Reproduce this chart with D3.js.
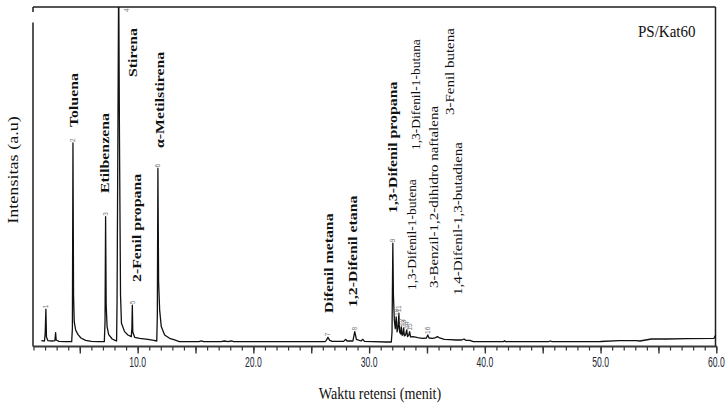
<!DOCTYPE html>
<html><head><meta charset="utf-8">
<script src="https://cdn.jsdelivr.net/npm/d3@7"></script>
<style>body{margin:0;background:#fff} svg{display:block}</style>
</head><body>
<svg id="chart" width="725" height="404"></svg>
<script>
// ---------- data ----------
const retentionTime = [1.68,1.95,2.01,2.07,2.12,2.25,2.6,2.85,2.91,2.96,3.2,3.8,4.3,4.36,4.41,4.46,4.52,4.65,4.85,5.1,5.5,6.0,6.6,7.12,7.18,7.23,7.28,7.36,7.5,7.8,8.1,8.18,8.22,8.29,8.36,8.43,8.52,8.6,8.87,9.16,9.45,9.5,9.54,9.58,9.74,10.17,10.89,11.4,11.65,11.7,11.75,11.81,11.9,12.04,12.33,12.76,13.19,13.6,15.3,15.5,15.7,17.2,17.5,17.8,18.1,18.3,21,24,26.2,26.3,26.44,26.6,26.8,27.8,27.96,28.1,28.6,28.76,28.9,29.3,29.46,29.6,30.3,31.5,31.92,31.98,32.05,32.1,32.18,32.26,32.34,32.42,32.5,32.57,32.64,32.72,32.78,32.85,32.92,32.98,33.05,33.15,33.25,33.32,33.42,33.5,33.58,33.8,34.2,34.6,34.95,35.07,35.18,35.5,35.75,35.9,36.1,36.5,37.0,37.5,38.0,38.2,38.35,38.7,39.0,40.0,41.6,41.7,41.8,45.5,45.65,45.8,48.2,50.0,51.6,53.1,53.4,54.4,55.7,57.5,59.8,59.95];
const signal = [0.4,0.3,2.5,9.8,1.5,0.4,0.3,0.4,2.8,0.6,0.2,0.1,0.1,4,59.4,14,6,3.5,2.2,1.2,0.5,0.2,0.1,0.1,6,37.4,11,4.5,2.2,0.9,0.4,0.3,12,60,110,60,14,5.6,3.1,2.1,1.6,4,11.0,3,1.4,1.1,0.8,0.5,0.3,8,51.8,18,9.6,4.6,2.1,1.1,0.6,0.1,0.1,0.3,0.1,0.1,0.3,0.1,0.3,0.1,0.1,0.1,0.1,0.5,1.4,0.5,0.2,0.2,0.8,0.3,0.3,3.1,0.8,0.3,0.8,0.2,0.1,0.0,0.0,3,29.5,14,6.5,4,7.5,3,4.2,8.6,3,2.4,4.5,2,2.3,4.2,1.8,2.1,3.6,1.6,2.0,3.1,1.5,1.6,1.3,1.1,1.2,2.1,1.2,1.1,1.3,1.6,1.2,0.8,0.7,0.6,0.6,0.9,0.5,0.5,0.1,0.1,0.1,0.4,0.1,0.1,0.3,0.1,0.1,0.15,0.4,0.4,0.3,0.9,0.9,1.0,1.1,2.1];

const peakNumber = [1,2,3,4,5,6,7,8,9,10,11,12,13,14,15,16];
const peakTime   = [2.07,4.41,7.23,8.36,9.54,11.75,26.44,28.76,32.05,32.34,32.57,32.78,32.98,33.25,33.5,35.07];
const peakApex   = [9.8,59.4,37.4,110,11.0,51.8,1.4,3.1,29.5,7.5,8.6,4.5,4.2,3.6,3.1,2.1];

const compoundName = ["Toluena","Etilbenzena","Stirena","α-Metilstirena","2-Fenil propana","Difenil metana","1,2-Difenil etana","1,3-Difenil propana","1,3-Difenil-1-butena","1,3-Difenil-1-butana","3-Benzil-1,2-dihidro naftalena","3-Fenil butena","1,4-Difenil-1,3-butadiena"];

const majorTicks = [5,10,15,20,25,30,35,40,45,50,55,60];
const labelTicks = [10,20,30,40,50,60];
const tickLabels = ["10.0","20.0","30.0","40.0","50.0","60.0"];

const sampleName = "PS/Kat60";
const xTitle = "Waktu retensi (menit)";
const yTitle = "Intensitas (a.u)";

// ---------- layout (positions / styles) ----------
// label anchor: x in minutes, bottom (text start) in px, font size, weight
const labelLayout = [
  {x:4.47, b:127, s:13.5, w:"bold"},
  {x:7.14, b:193, s:13.5, w:"bold"},
  {x:9.56, b:77,  s:13.5, w:"bold"},
  {x:11.90,b:148, s:13.5, w:"bold"},
  {x:9.88, b:282, s:13.5, w:"bold"},
  {x:26.49,b:313, s:13.5, w:"bold"},
  {x:28.57,b:307, s:13.5, w:"bold"},
  {x:32.02,b:213, s:13.5, w:"bold"},
  {x:33.75,b:290, s:11.5, w:"normal"},
  {x:34.07,b:150, s:11.5, w:"normal"},
  {x:35.61,b:288, s:12.8, w:"normal"},
  {x:37.01,b:115, s:12.8, w:"normal"},
  {x:37.66,b:295, s:12.8, w:"normal"}
];
const peakLabelDx = [0,0,0,8,0,0,0,0,0,0,0,0,0,0,0,0];
const STRETCH = 1.17;
const SERIF = "'Liberation Serif','Times New Roman',serif";

const svg = d3.select("#chart");
const L = 33, R = 715.5, T = 7, AX = 346.5;
const x = d3.scaleLinear().domain([1,60]).range([33.5,716.3]);
const y = d3.scaleLinear().domain([0,100]).range([342,7]);

svg.append("defs").append("clipPath").attr("id","plotclip")
  .append("rect").attr("x",L).attr("y",T).attr("width",R-L+1).attr("height",AX-T);

// frame
const frame = svg.append("g").attr("stroke","#1e1e1e").attr("stroke-width",1.5).attr("fill","none");
frame.append("line").attr("x1",L).attr("x2",R).attr("y1",T).attr("y2",T);
frame.append("line").attr("x1",L).attr("x2",L).attr("y1",T).attr("y2",12);
frame.append("line").attr("x1",L).attr("x2",L).attr("y1",22.5).attr("y2",AX);
frame.append("line").attr("x1",R).attr("x2",R).attr("y1",T).attr("y2",AX);

// trace
const pts = retentionTime.map((t,i)=>[t, signal[i]]);
svg.append("path").datum(pts)
  .attr("clip-path","url(#plotclip)")
  .attr("fill","none").attr("stroke","#111").attr("stroke-width",1.3).attr("stroke-linejoin","round")
  .attr("d", d3.line().x(d=>x(d[0])).y(d=>y(d[1])));

// x axis
const minorTicks = d3.range(1,61);
svg.append("g").attr("transform",`translate(0,${AX})`)
  .call(d3.axisBottom(x).tickValues(minorTicks).tickSize(4).tickFormat(""))
  .call(g=>{g.select(".domain").remove(); g.selectAll("line").attr("stroke","#333").attr("stroke-width",1.2);});
svg.append("g").attr("transform",`translate(0,${AX})`)
  .call(d3.axisBottom(x).tickValues(majorTicks).tickSize(7).tickFormat(""))
  .call(g=>{g.select(".domain").remove(); g.selectAll("line").attr("stroke","#333").attr("stroke-width",1.4);});
svg.append("line").attr("x1",L).attr("x2",717).attr("y1",AX).attr("y2",AX)
  .attr("stroke","#3a3a3a").attr("stroke-width",2.2);

svg.append("g").selectAll("text").data(labelTicks).join("text")
  .attr("transform",(d)=>`translate(${x(d)},366.5) scale(0.72,1.24)`)
  .attr("text-anchor","middle")
  .attr("font-family","'Liberation Sans',Arial,sans-serif").attr("font-size",12)
  .attr("fill","#1d2838")
  .text((d,i)=>tickLabels[i]);

// axis titles
svg.append("text").attr("transform",`translate(380,399) scale(1,${STRETCH})`)
  .attr("text-anchor","middle").attr("font-family",SERIF).attr("font-size",14.1).attr("fill","#111").text(xTitle);
svg.append("text").attr("transform",`translate(12.5,170) scale(1,${STRETCH}) rotate(-90)`)
  .attr("text-anchor","middle").attr("dominant-baseline","central")
  .attr("font-family",SERIF).attr("font-size",15.5).attr("fill","#111").text(yTitle);

// sample name
svg.append("text").attr("transform",`translate(638,37) scale(1,${STRETCH})`)
  .attr("font-family",SERIF).attr("font-size",15).attr("fill","#111").text(sampleName);

// compound labels
svg.append("g").selectAll("text").data(compoundName).join("text")
  .attr("transform",(d,i)=>`translate(${x(labelLayout[i].x)},${labelLayout[i].b}) scale(1,${STRETCH}) rotate(-90)`)
  .attr("dominant-baseline","central")
  .attr("font-family",SERIF)
  .attr("font-size",(d,i)=>labelLayout[i].s)
  .attr("font-weight",(d,i)=>labelLayout[i].w)
  .attr("fill","#111")
  .text(d=>d);

// peak numbers
svg.append("g").selectAll("text").data(peakNumber).join("text")
  .attr("transform",(d,i)=>`translate(${x(peakTime[i])+peakLabelDx[i]},${Math.max(y(peakApex[i]),13)-1}) rotate(-90)`)
  .attr("dominant-baseline","central")
  .attr("font-family","'Liberation Sans',Arial,sans-serif").attr("font-size",6.5)
  .attr("fill","#777")
  .text(d=>d);
</script>
</body></html>
